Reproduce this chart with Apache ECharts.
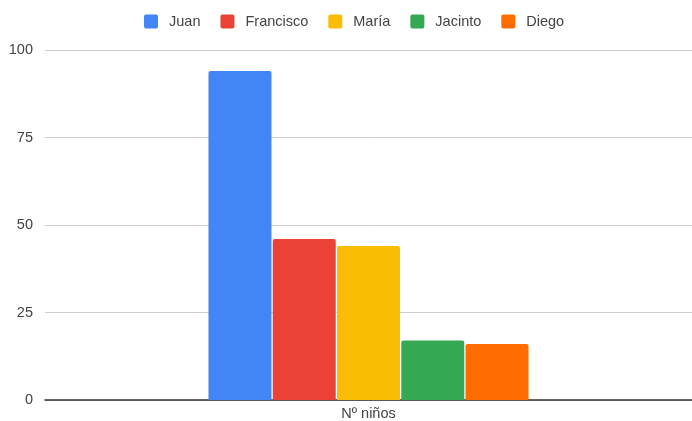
<!DOCTYPE html>
<html>
<head>
<meta charset="utf-8">
<script src="https://cdn.jsdelivr.net/npm/echarts@6/dist/echarts.min.js"></script>
<style>
  html, body { margin: 0; padding: 0; background: #fff; }
  #chart { width: 692px; height: 421px; }
</style>
</head>
<body>
<div id="chart"></div>
<script>
// Number of children per name
const categories = ['Nº niños'];
const names = ['Juan', 'Francisco', 'María', 'Jacinto', 'Diego'];
const values = [94, 46, 44, 17, 16];
const colors = ['#4285F4', '#EA4335', '#FBBC04', '#34A853', '#FF6D01'];
const yTicks = { min: 0, max: 100, interval: 25 };

const FONT = '"Liberation Sans", Arial, sans-serif';

const series = names.map((name, i) => ({
  name: name,
  type: 'bar',
  data: [values[i]],
  barWidth: 63,
  barGap: '2%',
  itemStyle: { color: colors[i], borderRadius: [2, 2, 0, 0] }
}));

const chart = echarts.init(document.getElementById('chart'), null, { renderer: 'canvas' });
chart.setOption({
  animation: false,
  textStyle: { fontFamily: FONT },
  legend: {
    top: 9,
    left: 139,
    itemWidth: 14,
    itemHeight: 14,
    itemGap: 20,
    icon: 'path://M2,0 L12,0 Q14,0 14,2 L14,12 Q14,14 12,14 L2,14 Q0,14 0,12 L0,2 Q0,0 2,0 Z',
    textStyle: { fontFamily: FONT, fontSize: 14.5, color: '#444', padding: [0, 0, 0, 6] },
    data: names
  },
  grid: { left: 45, right: 0, top: 50, bottom: 19, containLabel: false },
  xAxis: {
    type: 'category',
    data: categories,
    axisTick: { show: false },
    axisLine: { lineStyle: { color: '#333', width: 1.5 } },
    axisLabel: { fontFamily: FONT, fontSize: 14.5, color: '#444', margin: 6 }
  },
  yAxis: {
    type: 'value',
    min: yTicks.min,
    max: yTicks.max,
    interval: yTicks.interval,
    axisLine: { show: false },
    axisTick: { show: false },
    axisLabel: { fontFamily: FONT, fontSize: 14.5, color: '#444', margin: 12 },
    splitLine: { lineStyle: { color: '#ccc', width: 1 } }
  },
  series: series
});
</script>
</body>
</html>
